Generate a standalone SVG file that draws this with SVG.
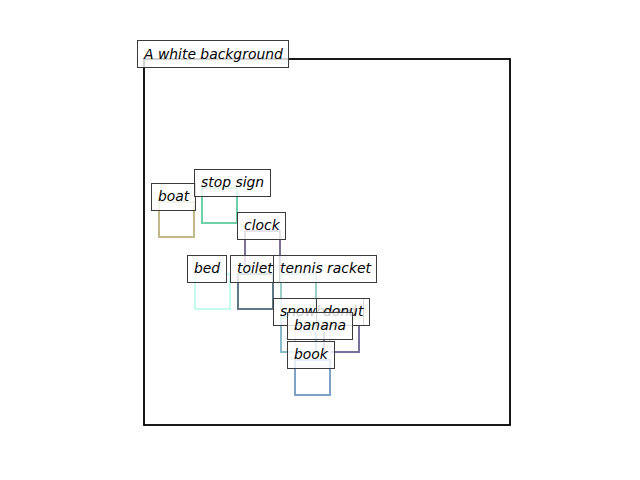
<svg xmlns="http://www.w3.org/2000/svg" width="640" height="480" viewBox="0 0 640 480">
<style>
.sq{fill:none;stroke-width:2}
.lb{fill:#fff;fill-opacity:0.8;stroke:#3a3a3a;stroke-width:1}
.tx{font-family:"DejaVu Sans",sans-serif;font-style:italic;font-size:13.9px;fill:#000}
</style>
<rect width="640" height="480" fill="#fff"/>
<rect id="axes" x="144" y="59" width="366" height="366" fill="none" stroke="#000" stroke-width="1.8"/>
<g id="squares">
<rect class="sq" x="159" y="202" width="35" height="35" stroke="#c2b88a"/>
<rect class="sq" x="202" y="188" width="35" height="35" stroke="#6dd0a8"/>
<rect class="sq" x="245" y="231" width="35" height="35" stroke="#7d7096"/>
<rect class="sq" x="195" y="274" width="35" height="35" stroke="#c4fbf0"/>
<rect class="sq" x="238" y="274" width="35" height="35" stroke="#5e7888"/>
<rect class="sq" x="281" y="274" width="35" height="35" stroke="#9ccfc8"/>
<rect class="sq" x="281" y="317" width="35" height="35" stroke="#88bccc"/>
<rect class="sq" x="324" y="317" width="35" height="35" stroke="#77709a"/>
<rect class="sq" x="295" y="331" width="35" height="35" stroke="#dcdcf0"/>
<rect class="sq" x="295" y="360" width="35" height="35" stroke="#7fa2c4"/>
</g>
<g id="title"><rect class="lb" x="137.5" y="40.5" width="151" height="27"/><text class="tx" x="144" y="59">A white background</text></g>
<g id="boat"><rect class="lb" x="151.5" y="183.5" width="44" height="27"/><text class="tx" x="158" y="201">boat</text></g>
<g id="stopsign"><rect class="lb" x="194.5" y="169.5" width="76" height="27"/><text class="tx" x="201" y="187">stop sign</text></g>
<g id="clock"><rect class="lb" x="237.5" y="212.5" width="48" height="27"/><text class="tx" x="244" y="230">clock</text></g>
<g id="bed"><rect class="lb" x="187.5" y="255.5" width="39" height="27"/><text class="tx" x="194" y="273">bed</text></g>
<g id="toilet"><rect class="lb" x="230.5" y="255.5" width="49" height="27"/><text class="tx" x="237" y="273">toilet</text></g>
<g id="tennisracket"><rect class="lb" x="273.5" y="255.5" width="103" height="27"/><text class="tx" x="280" y="273">tennis racket</text></g>
<g id="snowboard"><rect class="lb" x="273.5" y="298.5" width="90" height="27"/><text class="tx" x="280" y="316">snowboard</text></g>
<g id="donut"><rect class="lb" x="316.5" y="298.5" width="53" height="27"/><text class="tx" x="323" y="316">donut</text></g>
<g id="banana"><rect class="lb" x="287.5" y="312.5" width="65" height="27"/><text class="tx" x="294" y="330">banana</text></g>
<g id="book"><rect class="lb" x="287.5" y="341.5" width="47" height="27"/><text class="tx" x="294" y="359">book</text></g>
</svg>
